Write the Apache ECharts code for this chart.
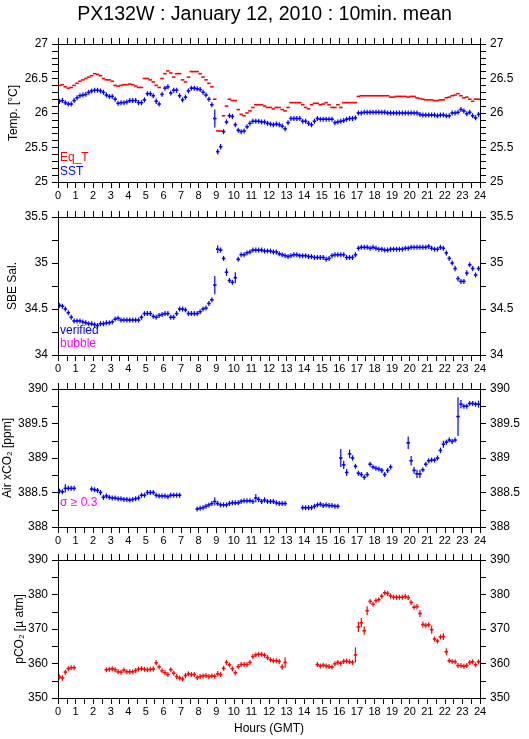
<!DOCTYPE html>
<html>
<head>
<meta charset="utf-8">
<title>PX132W : January 12, 2010</title>
<script src="https://cdn.jsdelivr.net/npm/echarts/dist/echarts.min.js"></script>
<style>
html, body { margin: 0; padding: 0; background: #fff; }
#chart { width: 529px; height: 739px; }
</style>
</head>
<body>
<div id="chart"></div>
<script>
// 10 minute means, one row per hour (6 values), null = no data
const eqT = [
  26.40, 26.41, 26.38, 26.36, 26.37, 26.40,
  26.43, 26.46, 26.48, 26.50, 26.52, 26.54,
  26.57, 26.56, 26.54, 26.50, 26.48, 26.48,
  26.46, 26.40, 26.39, 26.40, 26.41, 26.41,
  26.42, 26.41, 26.39, 26.37, 26.37, 26.50,
  26.50, 26.48, 26.45, 26.40, 26.37, 26.50,
  26.57, 26.61, 26.58, 26.52, 26.57, 26.57,
  26.48, 26.45, 26.52, 26.60, 26.60, 26.60,
  26.57, 26.52, 26.48, 26.43, 26.38, 26.20,
  25.74, 25.74, 25.96, 26.10, 26.20, 26.18,
  26.18, 26.05, 25.98, 25.96, 26.00, 26.03,
  26.08, 26.12, 26.12, 26.12, 26.10, 26.08,
  26.08, 26.06, 26.08, 26.08, 26.05, 26.03,
  26.08, 26.15, 26.15, 26.15, 26.15, 26.12,
  26.08, 26.06, 26.12, 26.14, 26.14, 26.12,
  26.13, 26.15, 26.12, 26.08, 26.08, 26.12,
  26.08, 26.15, 26.15, 26.15, 26.15, 26.15,
  26.24, 26.25, 26.25, 26.25, 26.25, 26.25,
  26.25, 26.25, 26.25, 26.25, 26.25, 26.23,
  26.23, 26.24, 26.24, 26.24, 26.24, 26.23,
  26.24, 26.24, 26.22, 26.21, 26.20, 26.19,
  26.19, 26.19, 26.18, 26.18, 26.19, 26.19,
  26.22, 26.23, 26.25, 26.26, 26.28, 26.25,
  26.22, 26.23, 26.20, 26.17, 26.20, 26.20
];
const sst = [
  26.17, 26.18, 26.15, 26.13, 26.13, 26.18,
  26.22, 26.25, 26.26, 26.27, 26.30, 26.32,
  26.33, 26.33, 26.32, 26.30, 26.26, 26.24,
  26.24, 26.20, 26.14, 26.15, 26.15, 26.16,
  26.18, 26.18, 26.18, 26.15, 26.15, 26.19,
  26.28, 26.28, 26.25, 26.17, 26.13, 26.27,
  26.36, 26.38, 26.29, 26.33, 26.33, 26.25,
  26.19, 26.23, 26.32, 26.36, 26.36, 26.35,
  26.34, 26.30, 26.26, 26.20, 26.12, 25.92,
  25.44, 25.51, 25.73, 25.87, 25.96, 25.95,
  25.83, 25.75, 25.73, 25.74, 25.80, 25.85,
  25.88, 25.88, 25.88, 25.87, 25.87, 25.85,
  25.84, 25.83, 25.84, 25.83, 25.81, 25.77,
  25.86, 25.92, 25.92, 25.92, 25.92, 25.88,
  25.88, 25.85, 25.83, 25.88, 25.92, 25.91,
  25.91, 25.91, 25.91, 25.91, 25.86, 25.87,
  25.88, 25.89, 25.91, 25.92, 25.92, 25.93,
  26.00, 26.00, 26.01, 26.01, 26.01, 26.01,
  26.01, 26.01, 26.01, 26.01, 26.00, 26.00,
  26.00, 26.00, 26.00, 26.00, 26.00, 26.00,
  26.00, 26.00, 26.00, 25.98, 25.97, 25.97,
  25.97, 25.97, 25.97, 25.96, 25.97, 25.97,
  25.96, 25.96, 26.00, 26.00, 26.01, 26.05,
  26.03, 25.99, 26.01, 25.96, 25.93, 25.98
];
const sstSd = { 33: 0.04, 34: 0.02, 35: 0.02, 53: 0.13, 54: 0.04, 55: 0.04, 56: 0.03 };

const salinity = [
  34.54, 34.53, 34.50, 34.46, 34.41, 34.37,
  34.37, 34.37, 34.36, 34.35, 34.34, 34.34,
  34.33, 34.32, 34.34, 34.34, 34.35, 34.35,
  34.36, 34.39, 34.40, 34.38, 34.38, 34.38,
  34.38, 34.38, 34.38, 34.38, 34.41, 34.45,
  34.45, 34.45, 34.42, 34.41, 34.43, 34.44,
  34.45, 34.45, 34.41, 34.41, 34.45, 34.50,
  34.50, 34.49, 34.45, 34.45, 34.45, 34.45,
  34.47, 34.50, 34.51, 34.56, 34.60, 34.76,
  35.15, 35.14, 35.05, 34.90, 34.81, 34.79,
  34.84, 35.04, 35.09, 35.09, 35.11, 35.12,
  35.14, 35.14, 35.14, 35.14, 35.13, 35.13,
  35.13, 35.12, 35.12, 35.10, 35.09, 35.08,
  35.07, 35.08, 35.09, 35.09, 35.08, 35.08,
  35.08, 35.07, 35.07, 35.06, 35.06, 35.06,
  35.06, 35.04, 35.05, 35.08, 35.09, 35.09,
  35.09, 35.09, 35.06, 35.06, 35.06, 35.09,
  35.16, 35.17, 35.17, 35.17, 35.16, 35.17,
  35.16, 35.15, 35.15, 35.14, 35.14, 35.15,
  35.15, 35.15, 35.15, 35.15, 35.16, 35.16,
  35.17, 35.17, 35.17, 35.17, 35.17, 35.17,
  35.18, 35.16, 35.15, 35.15, 35.17, 35.16,
  35.11, 35.05, 35.00, 34.94, 34.83, 34.80,
  34.80, 34.89, 34.98, 34.94, 34.87, 34.94
];
const salinitySd = { 53: 0.1, 54: 0.04, 57: 0.04, 59: 0.02, 60: 0.06, 135: 0.03, 136: 0.03, 138: 0.02, 139: 0.03 };

const airXco2 = [
  388.52, 388.51, 388.56, 388.56, 388.56, 388.56,
  null, null, null, null, null, 388.55,
  388.54, 388.53, 388.50, 388.43, 388.45, 388.43,
  388.42, 388.42, 388.41, 388.41, 388.40, 388.40,
  388.39, 388.40, 388.41, 388.42, 388.46, 388.46,
  388.50, 388.50, 388.50, 388.46, 388.45, 388.45,
  388.45, 388.44, 388.46, 388.46, 388.46, 388.46,
  null, null, null, null, null, 388.26,
  388.27, 388.28, 388.30, 388.32, 388.34, 388.37,
  388.34, 388.32, 388.32, 388.32, 388.34, 388.35,
  388.35, 388.35, 388.37, 388.38, 388.38, 388.38,
  388.37, 388.42, 388.40, 388.37, 388.39, 388.37,
  388.37, 388.37, 388.35, 388.34, 388.34, 388.34,
  null, null, null, null, null, 388.28,
  388.28, 388.28, 388.28, 388.30, 388.32, 388.33,
  388.31, 388.32, 388.31, 388.31, 388.30, 388.30,
  389.00, 388.90, 388.79, 389.06, 389.00, 388.88,
  388.78, 388.76, 388.72, 388.76, 388.91, 388.87,
  388.85, 388.84, 388.82, 388.76, 388.82, 388.87,
  null, null, null, null, null, 389.22,
  388.96, 388.82, 388.77, 388.77, 388.83, 388.91,
  388.96, 388.97, 388.97, 389.00, 389.11, 389.20,
  389.23, 389.26, 389.24, 389.26, 389.60, 389.78,
  389.75, 389.75, 389.79, 389.79, 389.78, 389.78
];
const airXco2Sd = {
  2: 0.06, 53: 0.06, 67: 0.06, 68: 0.04, 70: 0.04, 96: 0.13, 97: 0.06, 98: 0.05,
  99: 0.06, 100: 0.04, 119: 0.09, 120: 0.07, 121: 0.05, 122: 0.06, 123: 0.06,
  130: 0.04, 131: 0.05, 136: 0.28, 137: 0.06, 143: 0.05
};

const pco2 = [
  356.1, 355.8, 357.5, 358.5, 358.8, 358.8,
  null, null, null, null, null, null,
  null, null, null, null, 358.2, 358.3,
  358.5, 358.2, 357.6, 357.5, 358.1, 357.6,
  357.6, 357.6, 358.0, 358.4, 358.5, 358.3,
  358.2, 358.3, 358.4, 360.2, 359.0, 357.9,
  357.3, 356.8, 358.2, 357.2, 356.2, 355.8,
  355.5, 356.5, 357.0, 356.8, 356.8, 355.9,
  356.2, 356.4, 356.5, 356.2, 356.4, 356.3,
  357.0, 356.8, 358.6, 360.3, 359.6, 358.5,
  357.3, 359.1, 359.7, 359.7, 359.7, 360.3,
  362.0, 362.5, 362.7, 362.6, 362.4, 361.7,
  361.1, 360.8, 360.8, 360.6, 359.0, 360.3,
  null, null, null, null, null, null,
  null, null, null, null, 359.7, 359.3,
  359.5, 359.3, 359.1, 359.0, 359.9, 360.3,
  360.1, 360.6, 360.7, 360.5, 360.3, 362.5,
  370.6, 371.8, 369.5, 375.3, 378.0, 377.2,
  378.2, 378.5, 379.5, 380.5, 380.3, 379.6,
  379.2, 379.2, 379.2, 379.2, 379.4, 379.1,
  377.7, 376.3, 376.5, 374.5, 371.3, 371.0,
  371.2, 369.8, 367.1, 366.5, 367.7, 367.8,
  363.4, 360.8, 360.6, 360.5, 359.4, 359.4,
  359.2, 359.4, 360.3, 360.5, 359.6, 360.5
];
const pco2Sd = {
  1: 0.8, 32: 0.8, 33: 0.6, 39: 0.6, 54: 0.8, 60: 0.6, 76: 0.8, 77: 1.5, 101: 2.2,
  102: 1.5, 103: 1.4, 104: 1.2, 105: 1.3, 123: 1.0, 124: 0.9, 125: 0.8, 127: 1.2,
  130: 0.6, 131: 1.0, 132: 1.0
};

const STEP = 1 / 6; // 10 minutes in hours
const FONT = 'Liberation Sans, Arial, Helvetica, sans-serif';

function toPoints(values, sdMap, sdDefault) {
  const out = [];
  values.forEach((v, i) => {
    if (v == null) return;
    const sd = sdMap && sdMap[i] != null ? sdMap[i] : sdDefault;
    out.push([i * STEP + STEP / 2, v, sd]);
  });
  return out;
}

// "+" marks: horizontal bar = averaging window, vertical bar = std. dev.
function crossRender(minHalf) {
  return function (params, api) {
    const x = api.value(0), y = api.value(1), sd = api.value(2);
    const c = api.coord([x, y]);
    const l = api.coord([x - STEP / 2, y]);
    const r = api.coord([x + STEP / 2, y]);
    const t = api.coord([x, y + sd]);
    const b = api.coord([x, y - sd]);
    const half = Math.max((b[1] - t[1]) / 2, minHalf);
    const color = api.visual('color');
    const children = [{
      type: 'line', shape: { x1: l[0] - 0.3, y1: c[1], x2: r[0] + 0.3, y2: c[1] },
      style: { stroke: color, lineWidth: 1.6 }
    }];
    if (half > 0) {
      children.push({
        type: 'line', shape: { x1: c[0], y1: c[1] - half, x2: c[0], y2: c[1] + half },
        style: { stroke: color, lineWidth: 1.2 }
      });
    }
    return { type: 'group', children: children };
  };
}

const panels = [
  { top: 44, min: 25, max: 27, interval: 0.1, labelStep: 0.5, name: 'Temp. [°C]', nameGap: 38,
    series: [
      { data: toPoints(eqT, null, 0), color: '#ff0000', minHalf: 0 },
      { data: toPoints(sst, sstSd, 0.01), color: '#0000ff', minHalf: 2.5 }
    ] },
  { top: 217, min: 34, max: 35.5, interval: 0.25, labelStep: 0.5, name: 'SBE Sal.', nameGap: 39,
    series: [{ data: toPoints(salinity, salinitySd, 0.01), color: '#0000ff', minHalf: 2.5 }] },
  { top: 389, min: 388, max: 390, interval: 0.25, labelStep: 0.5, name: 'Air xCO₂ [ppm]', nameGap: 44,
    series: [{ data: toPoints(airXco2, airXco2Sd, 0.02), color: '#0000ff', minHalf: 2.5 }] },
  { top: 560, min: 350, max: 390, interval: 5, labelStep: 10, name: 'pCO₂ [µ atm]', nameGap: 32,
    series: [{ data: toPoints(pco2, pco2Sd, 0.3), color: '#ff0000', minHalf: 2.5 }] }
];

function makeTick() {
  return { show: true, inside: false, length: 6, lineStyle: { color: '#000', width: 1 } };
}
function makeLine() {
  return { show: true, onZero: false, lineStyle: { color: '#000', width: 1 } };
}
const hourLabel = v => (Math.abs(v - Math.round(v)) < 1e-6 ? String(Math.round(v)) : '');

const grid = [], xAxis = [], yAxis = [], series = [];
panels.forEach((p, k) => {
  grid.push({ left: 58, right: 49, top: p.top, height: 138, containLabel: false, outerBoundsContain: 'axisLabel' });
  const isLast = k === panels.length - 1;
  ['bottom', 'top'].forEach(pos => {
    xAxis.push({
      gridIndex: k, type: 'value', min: 0, max: 24, interval: 0.5, position: pos,
      axisLine: makeLine(), axisTick: makeTick(), splitLine: { show: false },
      axisLabel: {
        color: '#000', fontFamily: FONT, fontSize: 11, margin: 8,
        formatter: pos === 'bottom' ? hourLabel : () => ''
      },
      name: isLast && pos === 'bottom' ? 'Hours (GMT)' : '', nameLocation: 'middle', nameGap: 25,
      nameMoveOverlap: false,
      nameTextStyle: { color: '#000', fontFamily: FONT, fontSize: 12 }
    });
  });
  ['left', 'right'].forEach(pos => {
    yAxis.push({
      gridIndex: k, type: 'value', min: p.min, max: p.max, interval: p.interval, position: pos,
      axisLine: makeLine(), axisTick: makeTick(), splitLine: { show: false },
      axisLabel: {
        color: '#000', fontFamily: FONT, fontSize: 12, margin: 10,
        formatter: v => {
          const q = v / p.labelStep;
          return Math.abs(q - Math.round(q)) < 1e-6 ? String(+v.toFixed(2)) : '';
        }
      },
      name: pos === 'left' ? p.name : '', nameLocation: 'middle', nameGap: p.nameGap,
      nameMoveOverlap: false,
      nameTextStyle: { color: '#000', fontFamily: FONT, fontSize: 12 }
    });
  });
  p.series.forEach(s => {
    series.push({
      type: 'custom', xAxisIndex: k * 2, yAxisIndex: k * 2, clip: true,
      renderItem: crossRender(s.minHalf), itemStyle: { color: s.color },
      data: s.data, animation: false
    });
  });
});

const chart = echarts.init(document.getElementById('chart'), null, { renderer: 'canvas' });
chart.setOption({
  animation: false,
  title: {
    text: 'PX132W : January 12, 2010 : 10min. mean', left: 'center', top: 0,
    textStyle: { color: '#000', fontFamily: FONT, fontSize: 19.6, fontWeight: 'normal' }
  },
  grid: grid,
  xAxis: xAxis,
  yAxis: yAxis,
  series: series,
  graphic: [
    { type: 'text', left: 60, top: 152, style: { text: 'Eq_T', fill: '#ff0000', font: '12px ' + FONT } },
    { type: 'text', left: 60, top: 166, style: { text: 'SST', fill: '#0000ff', font: '12px ' + FONT } },
    { type: 'text', left: 60, top: 325, style: { text: 'verified', fill: '#0000ff', font: '12px ' + FONT } },
    { type: 'text', left: 60, top: 338, style: { text: 'bubble', fill: '#ff00ff', font: '12px ' + FONT } },
    { type: 'text', left: 60, top: 497, style: { text: 'σ ≥ 0.3', fill: '#ff00ff', font: '12px ' + FONT } }
  ]
});
</script>
</body>
</html>
